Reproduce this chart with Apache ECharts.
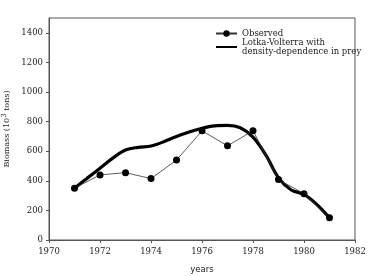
<!DOCTYPE html>
<html>
<head>
<meta charset="utf-8">
<script src="https://cdn.jsdelivr.net/npm/echarts@6/dist/echarts.min.js"></script>
<style>
  html, body { margin: 0; padding: 0; background: #fff; }
  #main { width: 374px; height: 276px; }
</style>
</head>
<body>
<div id="main"></div>
<script>
// observed biomass, one point per year
var obsYears = [1971, 1972, 1973, 1974, 1975, 1976, 1977, 1978, 1979, 1980, 1981];
var obsValues = [350, 440, 455, 415, 540, 738, 636, 738, 408, 313, 150];

// model curve, read every half year
var modelYears = [1971, 1971.5, 1972, 1972.5, 1973, 1973.5, 1974, 1974.5, 1975, 1975.5,
  1976, 1976.5, 1977, 1977.5, 1978, 1978.5, 1979, 1979.5, 1980, 1980.5, 1981];
var modelValues = [350, 418, 485, 553, 608, 626, 635, 664, 700, 730,
  755, 771, 774, 758, 695, 575, 420, 338, 308, 240, 150];

var yTicks = [0, 200, 400, 600, 800, 1000, 1200, 1400];
var xTicks = [1970, 1972, 1974, 1976, 1978, 1980, 1982];

var modelName = 'Lotka-Volterra with\ndensity-dependence in prey';

function pairs(xs, ys) {
  return xs.map(function (x, i) { return [x, ys[i]]; });
}
function plain(v) { return String(v); }

var serif = '"DejaVu Serif", "Liberation Serif", serif';
var myChart = echarts.init(document.getElementById('main'));
var option = {
  animation: false,
  grid: {
    left: 49, right: 19, top: 18, bottom: 36,
    outerBoundsMode: 'none', containLabel: false,
    show: true, borderColor: '#555', borderWidth: 1
  },
  legend: {
    left: 215, top: 29, padding: 0,
    orient: 'vertical',
    itemWidth: 21, itemHeight: 8, itemGap: 0,
    textStyle: { fontFamily: serif, fontSize: 8.5, color: '#222', lineHeight: 9 },
    data: [
      'Observed',
      { name: modelName, itemStyle: { opacity: 0 } }
    ]
  },
  xAxis: {
    type: 'value', min: 1970, max: 1982, interval: 2,
    name: 'years', nameLocation: 'middle', nameGap: 25,
    nameTextStyle: { fontFamily: '"DejaVu Sans", sans-serif', fontSize: 8.5, color: '#222' },
    splitLine: { show: false },
    axisLine: { lineStyle: { color: '#555' } },
    axisTick: { length: 3, lineStyle: { color: '#555' }, customValues: xTicks },
    axisLabel: { fontFamily: serif, fontSize: 8.5, color: '#222', margin: 7, customValues: xTicks, formatter: plain }
  },
  yAxis: {
    type: 'value', min: 0, max: 1500, interval: 100,
    name: '{a|Biomass (10}{s|3}{a| tons)}', nameLocation: 'middle', nameGap: 30,
    nameTextStyle: {
      rich: {
        a: { fontFamily: serif, fontSize: 8, color: '#222' },
        s: { fontFamily: serif, fontSize: 7, color: '#222', verticalAlign: 'bottom', padding: [0, 0, 5, 0] }
      }
    },
    splitLine: { show: false },
    axisLine: { show: true, lineStyle: { color: '#555' } },
    axisTick: { show: true, length: 3, lineStyle: { color: '#555' }, customValues: yTicks },
    axisLabel: { fontFamily: serif, fontSize: 8.5, color: '#222', margin: 6, customValues: yTicks, formatter: plain }
  },
  series: [
    {
      name: 'Observed',
      type: 'line',
      data: pairs(obsYears, obsValues),
      symbol: 'circle', symbolSize: 7,
      lineStyle: { color: '#333', width: 0.8 },
      itemStyle: { color: '#000' },
      z: 3
    },
    {
      name: modelName,
      type: 'line',
      data: pairs(modelYears, modelValues),
      smooth: 0.35,
      showSymbol: false, symbol: 'none',
      lineStyle: { color: '#000', width: 3.2 },
      itemStyle: { color: '#000' },
      z: 2
    }
  ]
};
myChart.setOption(option);
</script>
</body>
</html>
